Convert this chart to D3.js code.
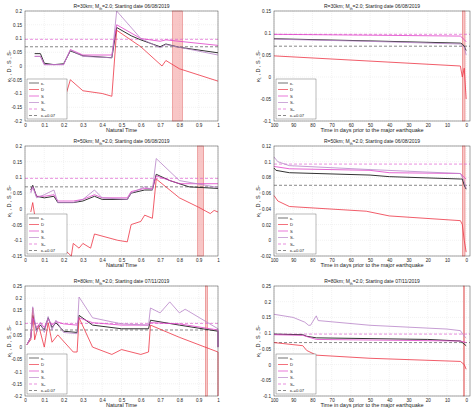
<!DOCTYPE html><html><head><meta charset="utf-8"><script src="https://cdn.jsdelivr.net/npm/d3@7"></script>
<style>body{margin:0;background:#fff}text{font-family:"Liberation Sans",Arial,sans-serif}</style></head><body><svg id="c" width="474" height="414"></svg><script>
// ---- data ----
const titles=["R=30km; M","R=50km; M","R=80km; M"];
const dates=["06/08/2019","06/08/2019","07/11/2019"];
const legendLabels=["κ₁","D","S","S-","Sᵤ","κ₁=0.07"];
const SU=0.097, K07=0.07;
// left panels (natural time)
const L1_k=[[0.05,0.045],[0.08,0.045],[0.1,0.01],[0.15,0.005],[0.2,0.008],[0.235,0.055],[0.3,0.037],[0.45,0.03],[0.475,0.14],[0.55,0.11],[0.6,0.095],[0.7,0.07],[0.73,0.08],[0.8,0.068],[1,0.048]];
const L1_S=[[0.05,0.035],[0.08,0.035],[0.1,0.005],[0.2,0.005],[0.235,0.06],[0.3,0.04],[0.45,0.04],[0.475,0.15],[0.6,0.1],[0.7,0.09],[0.73,0.095],[1,0.075]];
const L1_Sm=[[0.05,0.035],[0.08,0.035],[0.1,0.005],[0.2,0.005],[0.235,0.058],[0.3,0.035],[0.45,0.03],[0.475,0.2],[0.6,0.1],[0.7,0.066],[0.73,0.078],[1,0.04]];
const L1_D=[[0.1,-0.19],[0.18,-0.18],[0.235,-0.05],[0.3,-0.09],[0.4,-0.1],[0.45,-0.11],[0.475,0.13],[0.6,0.07],[0.71,0.0],[0.73,0.02],[0.8,-0.01],[1,-0.055]];
const L2_k=[[0.03,0.06],[0.04,0.075],[0.06,0.04],[0.1,0.035],[0.15,0.04],[0.17,0.02],[0.25,0.02],[0.3,0.025],[0.36,0.04],[0.4,0.03],[0.53,0.03],[0.55,0.05],[0.62,0.06],[0.66,0.06],[0.68,0.11],[0.75,0.09],[0.85,0.07],[1,0.065]];
const L2_S=[[0.03,0.055],[0.04,0.07],[0.06,0.04],[0.1,0.04],[0.15,0.045],[0.17,0.025],[0.25,0.025],[0.3,0.03],[0.36,0.045],[0.4,0.035],[0.53,0.035],[0.55,0.055],[0.62,0.065],[0.66,0.065],[0.68,0.105],[0.8,0.08],[1,0.08]];
const L2_Sm=[[0.03,0.05],[0.04,0.07],[0.06,0.035],[0.1,0.045],[0.15,0.06],[0.17,0.02],[0.25,0.02],[0.3,0.03],[0.36,0.06],[0.4,0.035],[0.53,0.03],[0.55,0.05],[0.62,0.07],[0.66,0.06],[0.68,0.16],[0.8,0.09],[1,0.068]];
const L2_D=[[0.03,-0.01],[0.04,0.02],[0.06,-0.06],[0.15,-0.06],[0.17,-0.11],[0.24,-0.15],[0.25,-0.11],[0.28,-0.125],[0.3,-0.11],[0.34,-0.125],[0.36,-0.08],[0.48,-0.1],[0.53,-0.105],[0.55,-0.05],[0.6,-0.04],[0.62,-0.02],[0.66,-0.03],[0.68,0.095],[0.8,0.035],[0.9,0.005],[0.96,-0.015],[0.98,-0.005],[1,-0.01]];
const L3_k=[[0.01,0.01],[0.03,0.04],[0.04,0.13],[0.06,0.07],[0.08,0.09],[0.1,0.07],[0.12,0.12],[0.14,0.08],[0.16,0.1],[0.2,0.065],[0.27,0.06],[0.28,0.13],[0.35,0.09],[0.5,0.075],[0.64,0.075],[0.65,0.11],[0.8,0.09],[1,0.065],[1,0]];
const L3_S=[[0.01,0.01],[0.03,0.04],[0.04,0.12],[0.06,0.08],[0.08,0.1],[0.1,0.08],[0.12,0.115],[0.14,0.09],[0.16,0.105],[0.2,0.095],[0.27,0.09],[0.28,0.12],[0.35,0.1],[0.5,0.09],[0.64,0.09],[0.65,0.1],[0.8,0.095],[1,0.07],[1,0]];
const L3_Sm=[[0.01,0.01],[0.03,0.04],[0.04,0.165],[0.06,0.06],[0.08,0.1],[0.1,0.06],[0.12,0.125],[0.14,0.07],[0.16,0.11],[0.2,0.06],[0.27,0.055],[0.28,0.205],[0.35,0.12],[0.5,0.095],[0.64,0.09],[0.65,0.16],[0.7,0.14],[0.75,0.185],[0.8,0.14],[0.83,0.155],[1,0.075],[1,0]];
const L3_D=[[0.01,0.01],[0.03,0.03],[0.04,0.16],[0.05,0.03],[0.07,0.09],[0.1,0.0],[0.12,0.1],[0.14,0.02],[0.17,0.05],[0.25,-0.02],[0.27,-0.02],[0.28,0.12],[0.35,0.0],[0.45,-0.03],[0.5,-0.01],[0.6,-0.03],[0.64,-0.02],[0.65,0.09],[0.8,0.04],[1,-0.02],[1,-0.2]];
// right panels (days before)
const R1_k=[[100,0.087],[50,0.082],[3,0.077],[2,0.075],[1,0.07],[0.5,0.065],[0,0.06]];
const R1_S=[[100,0.097],[50,0.095],[3,0.093],[1,0.085],[0,0.08]];
const R1_Sm=[[100,0.086],[50,0.081],[3,0.075],[1,0.068],[0,0.05]];
const R1_D=[[100,0.048],[3,0.025],[2,0.0],[1,0.02],[0,-0.05]];
const R2_k=[[100,0.092],[99,0.089],[92,0.086],[50,0.083],[40,0.081],[3,0.078],[2,0.078],[1,0.07],[0,0.065]];
const R2_S=[[100,0.094],[92,0.091],[50,0.089],[40,0.086],[3,0.085],[1,0.08],[0,0.078]];
const R2_Sm=[[100,0.106],[98,0.1],[92,0.095],[50,0.09],[3,0.085],[1,0.075],[0,0.066]];
const R2_D=[[100,0.057],[98,0.05],[92,0.043],[52,0.037],[40,0.031],[3,0.025],[2,0.02],[1,0],[0,-0.015]];
const R3_k=[[100,0.097],[85,0.095],[83,0.09],[78,0.085],[20,0.08],[3,0.075],[0,0.06]];
const R3_S=[[100,0.095],[85,0.093],[78,0.08],[3,0.075],[0,0.07]];
const R3_Sm=[[100,0.16],[90,0.15],[84,0.135],[82,0.125],[81,0.125],[78,0.155],[77,0.14],[50,0.125],[10,0.113],[3,0.108],[1,0.09],[0,0.085]];
const R3_D=[[100,0.07],[85,0.06],[83,0.045],[78,0.03],[50,0.02],[3,0.01],[1,0.0],[0,-0.015]];
const leftY=[[-0.2,0.2,0.05],[-0.15,0.2,0.05],[-0.2,0.25,0.05]];
const rightY=[[-0.1,0.15,0.05],[-0.02,0.12,0.02],[-0.1,0.25,0.05]];
const leftBands=[[0.765,0.815],[0.895,0.925],[0.935,0.945]];
const rightBands=[[2,0.6],[2,0.6],[1.5,0.8]];
// ---- drawing ----
const svg=d3.select("#c");
const C={k:"#333",D:"#ee3344",S:"#e040c8",Sm:"#b884c8",Su:"#e060d0",K:"#555"};
const fmt=d=>Math.abs(d)<1e-9?"0":String(+d.toFixed(2));
function panel(i,side){
  const left=side==="L";
  const x0=left?25:274,x1=left?218:470;
  const tops=[11,146,286],bots=[121,256,396];
  const y0=tops[i],y1=bots[i];
  const yd=left?leftY[i]:rightY[i];
  const x=left?d3.scaleLinear().domain([0,1]).range([x0,x1]):d3.scaleLinear().domain([100,-2]).range([x0,x1]);
  const y=d3.scaleLinear().domain([yd[0],yd[1]]).range([y1,y0]);
  const g=svg.append("g");
  const yt=d3.range(yd[0],yd[1]+1e-9,yd[2]);
  const xt=left?d3.range(0,1.0001,0.1):d3.range(100,-1,-10);
  g.append("g").attr("transform",`translate(0,${y1})`).call(d3.axisBottom(x).tickValues(xt).tickSize(0).tickPadding(3).tickFormat(d=>left?fmt(d):d))
   .call(a=>{a.select(".domain").remove();a.selectAll("text").attr("font-size",4.6).attr("fill","#222");});
  g.append("g").attr("transform",`translate(${x0},0)`).call(d3.axisLeft(y).tickValues(yt).tickSize(0).tickPadding(3).tickFormat(d=>fmt(d)))
   .call(a=>{a.select(".domain").remove();a.selectAll("text").attr("font-size",4.6).attr("fill","#222");});
  g.selectAll(".gx").data(xt).join("line").attr("x1",d=>x(d)).attr("x2",d=>x(d)).attr("y1",y0).attr("y2",y1).attr("stroke","#ddd").attr("stroke-width",0.4).attr("stroke-dasharray","1,1");
  g.selectAll(".gy").data(yt).join("line").attr("x1",x0).attr("x2",x1).attr("y1",d=>y(d)).attr("y2",d=>y(d)).attr("stroke","#ddd").attr("stroke-width",0.4).attr("stroke-dasharray","1,1");
  const band=left?leftBands[i]:rightBands[i];
  g.append("rect").attr("x",x(band[0])).attr("width",x(band[1])-x(band[0])).attr("y",y0).attr("height",y1-y0).attr("fill","#f4a0a0").attr("fill-opacity",0.6).attr("stroke","#e06060").attr("stroke-width",0.5);
  const key=(left?"L":"R")+(i+1);
  const series=[[key+"_k",C.k,1],[key+"_D",C.D,0.8],[key+"_S",C.S,0.8],[key+"_Sm",C.Sm,0.8]];
  const data={L1_k,L1_S,L1_Sm,L1_D,L2_k,L2_S,L2_Sm,L2_D,L3_k,L3_S,L3_Sm,L3_D,R1_k,R1_S,R1_Sm,R1_D,R2_k,R2_S,R2_Sm,R2_D,R3_k,R3_S,R3_Sm,R3_D};
  const line=d3.line().x(d=>x(d[0])).y(d=>y(d[1]));
  g.append("line").attr("x1",x0).attr("x2",x1).attr("y1",y(SU)).attr("y2",y(SU)).attr("stroke",C.Su).attr("stroke-width",0.7).attr("stroke-dasharray","3,2");
  g.append("line").attr("x1",x0).attr("x2",x1).attr("y1",y(K07)).attr("y2",y(K07)).attr("stroke",C.K).attr("stroke-width",0.7).attr("stroke-dasharray","3,2");
  series.forEach(([k,c,w])=>g.append("path").attr("d",line(data[k])).attr("fill","none").attr("stroke",c).attr("stroke-width",w));
  g.append("rect").attr("x",x0).attr("y",y0).attr("width",x1-x0).attr("height",y1-y0).attr("fill","none").attr("stroke","#444").attr("stroke-width",0.5);
  const t=g.append("text").attr("x",(x0+x1)/2).attr("y",y0-3).attr("text-anchor","middle").attr("font-size",5).attr("fill","#222");
  t.append("tspan").text(titles[i]);t.append("tspan").attr("font-size",3.5).attr("dy",1.5).text("th");
  t.append("tspan").attr("dy",-1.5).text("=2.0; Starting date "+dates[i]);
  g.append("text").attr("x",(x0+x1)/2).attr("y",y1+11).attr("text-anchor","middle").attr("font-size",5.5).attr("fill","#222").text(left?"Natural Time":"Time in days prior to the major earthquake");
  g.append("text").attr("transform",`translate(${x0-14},${(y0+y1)/2}) rotate(-90)`).attr("text-anchor","middle").attr("font-size",5.5).attr("fill","#222").text("κ₁ , D , S , S-");
  const lx=x0+2,ly=y1-42,lh=6.5;
  g.append("rect").attr("x",lx).attr("y",ly).attr("width",40).attr("height",40).attr("fill","#fff").attr("stroke","#555").attr("stroke-width",0.4);
  const lc=[[C.k,null],[C.D,null],[C.S,null],[C.Sm,null],[C.Su,"3,2"],[C.K,"3,2"]];
  legendLabels.forEach((l,j)=>{
    const yy=ly+4+j*lh;
    g.append("line").attr("x1",lx+2).attr("x2",lx+12).attr("y1",yy).attr("y2",yy).attr("stroke",lc[j][0]).attr("stroke-width",0.7).attr("stroke-dasharray",lc[j][1]);
    g.append("text").attr("x",lx+14).attr("y",yy+1.5).attr("font-size",4.2).attr("fill","#222").text(l);
  });
}
[0,1,2].forEach(i=>{panel(i,"L");panel(i,"R");});
</script></body></html>
